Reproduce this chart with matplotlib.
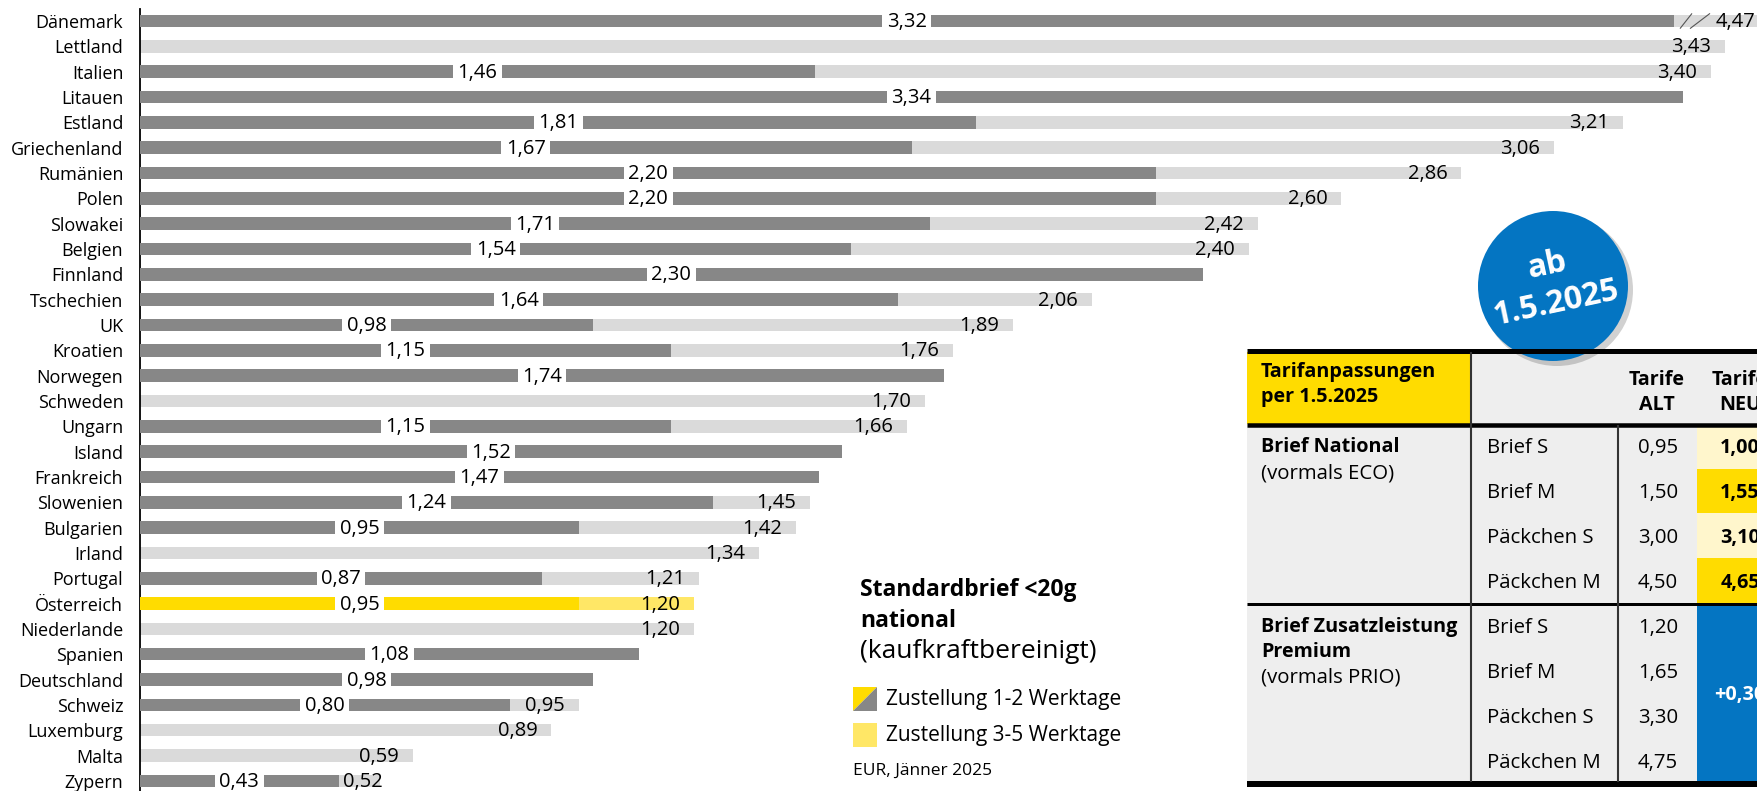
import matplotlib
matplotlib.use("Agg")
import matplotlib.pyplot as plt
from matplotlib import font_manager
from matplotlib.patches import Rectangle, Circle, Polygon

# ── data: Standardbrief <20g national, kaufkraftbereinigt, EUR Jänner 2025 ──
countries = ["Dänemark", "Lettland", "Italien", "Litauen", "Estland", "Griechenland",
             "Rumänien", "Polen", "Slowakei", "Belgien", "Finnland", "Tschechien", "UK",
             "Kroatien", "Norwegen", "Schweden", "Ungarn", "Island", "Frankreich",
             "Slowenien", "Bulgarien", "Irland", "Portugal", "Österreich", "Niederlande",
             "Spanien", "Deutschland", "Schweiz", "Luxemburg", "Malta", "Zypern"]
# Zustellung 1-2 Werktage
fast = [3.32, None, 1.46, 3.34, 1.81, 1.67, 2.20, 2.20, 1.71, 1.54, 2.30, 1.64, 0.98,
        1.15, 1.74, None, 1.15, 1.52, 1.47, 1.24, 0.95, None, 0.87, 0.95, None,
        1.08, 0.98, 0.80, None, None, 0.43]
# Zustellung 3-5 Werktage
slow = [4.47, 3.43, 3.40, None, 3.21, 3.06, 2.86, 2.60, 2.42, 2.40, None, 2.06, 1.89,
        1.76, None, 1.70, 1.66, None, None, 1.45, 1.42, 1.34, 1.21, 1.20, 1.20,
        None, None, 0.95, 0.89, 0.59, 0.52]
highlight = "Österreich"

# table: Tarifanpassungen per 1.5.2025
products = ["Brief S", "Brief M", "Päckchen S", "Päckchen M"]
national_alt = ["0,95", "1,50", "3,00", "4,50"]
national_neu = ["1,00", "1,55", "3,10", "4,65"]
premium_alt = ["1,20", "1,65", "3,30", "4,75"]
premium_delta = "+0,30"

DARK, LIGHT = "#878787", "#DADADA"
YEL, YEL_L, YEL_P = "#FFDC00", "#FFE766", "#FFF6CC"
BLUE = "#0475C2"
TBG = "#EEEEEE"


def has_bold(family):
    # the family must exist and come with a real bold face
    try:
        reg = font_manager.findfont(font_manager.FontProperties(family=family),
                                    fallback_to_default=False)
        bold = font_manager.findfont(font_manager.FontProperties(family=family,
                                                                 weight="bold"),
                                     fallback_to_default=False)
    except Exception:
        return False
    return bold != reg and "bold" in font_manager.get_font(bold).style_name.lower()


FONT = "DejaVu Sans"
for cand in ["Noto Sans", "Open Sans", "Roboto", "Inter", "Lato", "Liberation Sans"]:
    if has_bold(cand):
        FONT = cand
        break
plt.rcParams["font.family"] = [FONT, "DejaVu Sans"]


def fmt(v):
    return f"{v:.2f}".replace(".", ",")


W, H = 1758, 791
X0, SCALE = 140, 462.0          # axis position (px) and px per EUR
ROW0, ROWH = 21.0, 25.33        # first row centre and row pitch (px)
TOP = 9

fig = plt.figure(figsize=(W / 100, H / 100), dpi=100)
ax = fig.add_axes([X0 / W, 0, 1 - X0 / W, 1 - TOP / H])
xmax = (W - X0) / SCALE
ax.set_xlim(0, xmax)
ax.set_ylim((H - ROW0) / ROWH, (TOP - ROW0) / ROWH)

bar_h = 12.5 / ROWH
for i, c in enumerate(countries):
    dark_c, light_c = (YEL, YEL_L) if c == highlight else (DARK, LIGHT)
    if slow[i] is not None:
        ax.barh(i, slow[i], height=bar_h, color=light_c, lw=0, zorder=2)
    if fast[i] is not None:
        ax.barh(i, fast[i], height=bar_h, color=dark_c, lw=0, zorder=3)
        ax.text(fast[i] / 2, i + 0.04, fmt(fast[i]), ha="center", va="center",
                fontsize=14.5, zorder=5,
                bbox=dict(boxstyle="square,pad=0.22", fc="white", ec="none"))
    if slow[i] is not None:
        if slow[i] > xmax:
            # broken bar: value off the scale
            ax.annotate(fmt(slow[i]), (xmax, i + 0.04), xytext=(-2, 0),
                        textcoords="offset points", ha="right", va="center",
                        fontsize=14.5, zorder=5)
            xb = xmax - 78 / SCALE
            for dx0, dx1, dy in [(0, 12, 0.30), (10, 30, 0.30)]:
                ax.plot([xb + dx0 / SCALE, xb + dx1 / SCALE], [i + dy, i - dy],
                        color="#555555", lw=0.8, zorder=6, solid_capstyle="butt")
        elif fast[i] is not None and (slow[i] - fast[i]) * SCALE < 60:
            ax.annotate(fmt(slow[i]), (fast[i], i + 0.04), xytext=(3, 0),
                        textcoords="offset points", ha="left", va="center",
                        fontsize=14.5, zorder=5)
        else:
            ax.annotate(fmt(slow[i]), (slow[i], i + 0.04), xytext=(-10, 0),
                        textcoords="offset points", ha="right", va="center",
                        fontsize=14.5, zorder=5)

ax.set_yticks(range(len(countries)))
ax.set_yticklabels(countries, fontsize=13)
ax.tick_params(axis="y", length=0, pad=12)
ax.set_xticks([])
for s in ["top", "right", "bottom"]:
    ax.spines[s].set_visible(False)
ax.spines["left"].set_linewidth(1.3)
ax.spines["left"].set_color("black")
ax.patch.set_alpha(0)

# ── overlay in pixel coordinates: legend, table, badge ──
ov = fig.add_axes([0, 0, 1, 1], zorder=10)
ov.set_xlim(0, W)
ov.set_ylim(H, 0)
ov.axis("off")
ov.patch.set_alpha(0)

# legend block
LX = 860
ov.text(LX, 590, "Standardbrief <20g", fontsize=16.5, fontweight="bold", va="center")
ov.text(LX, 621, "national", fontsize=16.5, fontweight="bold", va="center")
ov.text(LX, 652, "(kaufkraftbereinigt)", fontsize=19, va="center")
ov.add_patch(Polygon([(853, 687), (877, 687), (853, 711)], closed=True, fc=YEL, ec="none"))
ov.add_patch(Polygon([(877, 687), (877, 711), (853, 711)], closed=True, fc=DARK, ec="none"))
ov.text(886, 700, "Zustellung 1-2 Werktage", fontsize=15, va="center")
ov.add_patch(Rectangle((853, 723), 24, 24, fc=YEL_L, ec="none"))
ov.text(886, 735, "Zustellung 3-5 Werktage", fontsize=15, va="center")
ov.text(853, 771, "EUR, Jänner 2025", fontsize=12.5, va="center")

# table
FS = 14.2
TL, TRX = 1247, W + 20
ov.add_patch(Rectangle((TL, 352), 1471 - TL, 72, fc=YEL, ec="none"))
ov.add_patch(Rectangle((1471, 352), TRX - 1471, 72, fc=TBG, ec="none"))
ov.add_patch(Rectangle((TL, 424), TRX - TL, 358, fc=TBG, ec="none"))
bounds = [426, 469, 513, 558, 603]
for j in range(len(products)):
    ov.add_patch(Rectangle((1697, bounds[j]), TRX - 1697, bounds[j + 1] - bounds[j],
                           fc=YEL_P if j % 2 == 0 else YEL, ec="none"))
ov.add_patch(Rectangle((1697, 605), TRX - 1697, 176, fc=BLUE, ec="none"))
for y, lw in [(350.5, 5), (424.5, 4.5), (604, 3), (783.5, 6)]:
    ov.plot([TL, TRX], [y, y], color="black", lw=lw * 0.72, solid_capstyle="butt")
ov.plot([1471, 1471], [353, 781], color="#333333", lw=1.5)
ov.plot([1618, 1618], [426, 781], color="#333333", lw=1.5)

TX = 1261
ov.text(TX, 372, "Tarifanpassungen", fontsize=FS, fontweight="bold", va="center")
ov.text(TX, 397, "per 1.5.2025", fontsize=FS, fontweight="bold", va="center")
ov.text(1657, 380, "Tarife", fontsize=FS, fontweight="bold", va="center", ha="center")
ov.text(1657, 405, "ALT", fontsize=FS, fontweight="bold", va="center", ha="center")
ov.text(1740, 380, "Tarife", fontsize=FS, fontweight="bold", va="center", ha="center")
ov.text(1740, 405, "NEU", fontsize=FS, fontweight="bold", va="center", ha="center")

ov.text(TX, 447, "Brief National", fontsize=FS, fontweight="bold", va="center")
ov.text(TX, 473, "(vormals ECO)", fontsize=FS + 0.5, va="center")
ov.text(TX, 627, "Brief Zusatzleistung", fontsize=FS, fontweight="bold", va="center")
ov.text(TX, 652, "Premium", fontsize=FS, fontweight="bold", va="center")
ov.text(TX, 678, "(vormals PRIO)", fontsize=FS + 0.5, va="center")

for j, p in enumerate(products):
    yn = 448 + j * 45
    yp = 628 + j * 45
    ov.text(1487, yn, p, fontsize=FS + 0.5, va="center")
    ov.text(1678, yn, national_alt[j], fontsize=FS + 0.5, va="center", ha="right")
    ov.text(1740, yn, national_neu[j], fontsize=FS, fontweight="bold", va="center",
            ha="center")
    ov.text(1487, yp, p, fontsize=FS + 0.5, va="center")
    ov.text(1678, yp, premium_alt[j], fontsize=FS + 0.5, va="center", ha="right")
ov.text(1740, 695, premium_delta, fontsize=FS, fontweight="bold", color="white",
        va="center", ha="center")

# badge
ov.add_patch(Circle((1557, 290), 76, fc="black", alpha=0.18, ec="none"))
ov.add_patch(Circle((1553, 286), 75, fc=BLUE, ec="none"))
ov.text(1547, 266, "ab", fontsize=23, fontweight="bold", color="white",
        ha="center", va="center", rotation=12)
ov.text(1556, 303, "1.5.2025", fontsize=23, fontweight="bold", color="white",
        ha="center", va="center", rotation=12)

fig.savefig("out.png", dpi=100)
